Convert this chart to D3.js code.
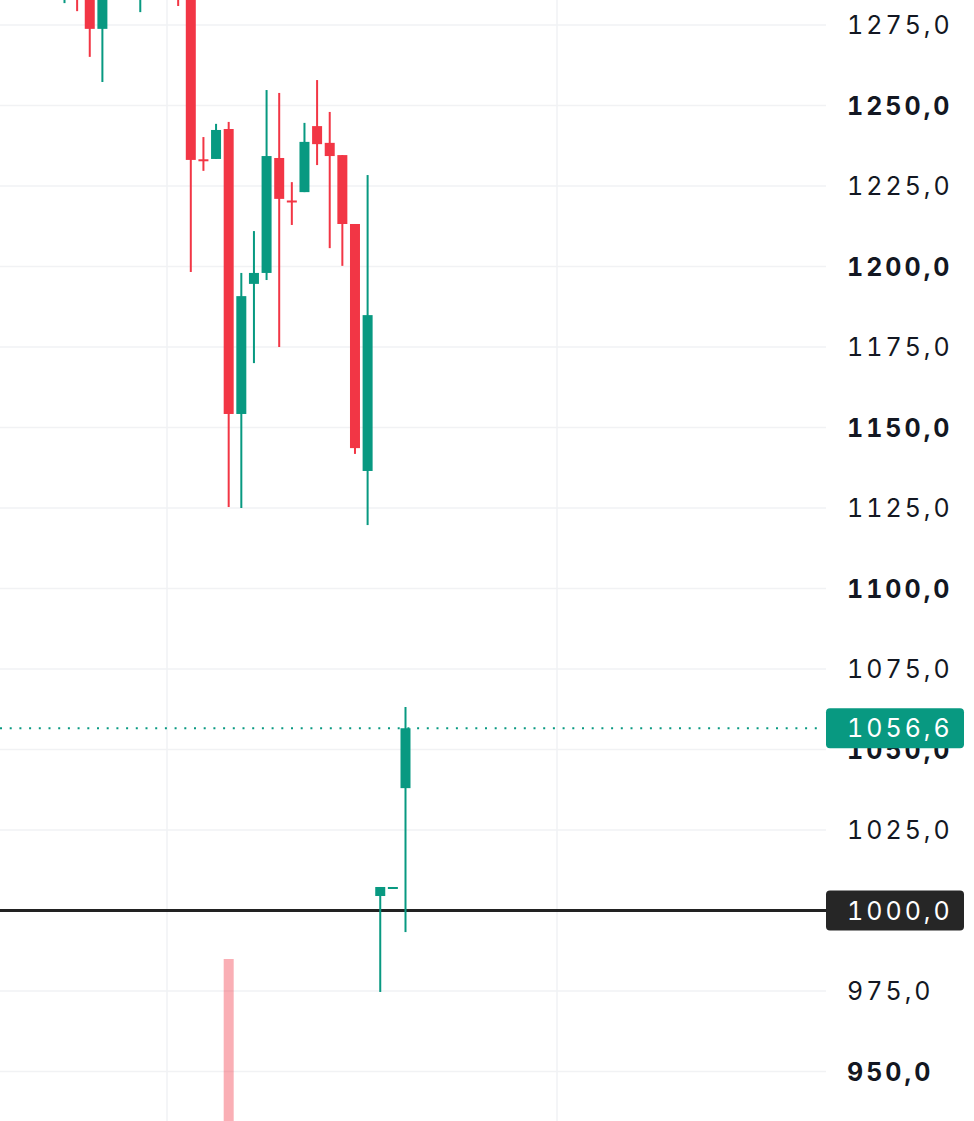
<!DOCTYPE html>
<html>
<head>
<meta charset="utf-8">
<script src="https://cdn.jsdelivr.net/npm/d3@7"></script>
<style>
  html, body { margin: 0; padding: 0; background: #fff; }
  svg { display: block; }
  text { font-variant-numeric: tabular-nums; font-feature-settings: "tnum" 1; }
</style>
</head>
<body>
<svg id="chart" width="974" height="1121"></svg>
<script>
// ---- data ----
const opens  = [1290, 1295, 1292, 1273.8, 1290, 1300, 1290, 1302, 1296, 1304, 1298, 1233.3, 1233.4, 1242.7, 1154.2, 1194.6, 1198.0, 1233.7, 1220.5, 1223.1, 1243.6, 1238.4, 1234.6, 1213.2, 1136.5, 1004.5, 1007.3, 1038.0];
const highs  = [1305, 1298, 1296, 1294, 1305, 1303, 1306, 1306, 1308, 1309, 1300, 1240.2, 1244.3, 1244.9, 1198.0, 1211.0, 1254.8, 1253.9, 1226.2, 1244.6, 1257.9, 1248.0, 1234.6, 1213.2, 1228.4, 1007.3, 1007.3, 1063.2];
const lows   = [1281.8, 1279.3, 1265.1, 1257.3, 1287, 1288, 1279, 1291, 1290, 1280.9, 1198.3, 1229.7, 1233.4, 1125.3, 1125.0, 1170.0, 1195.8, 1175.0, 1212.9, 1223.1, 1231.5, 1205.7, 1200.2, 1141.8, 1119.7, 974.7, 1007.3, 993.3];
const closes = [1300, 1288, 1273.8, 1290, 1300, 1293, 1302, 1296, 1304, 1298, 1233.1, 1233.1, 1242.4, 1154.2, 1190.8, 1198.0, 1234.3, 1221.0, 1220.3, 1238.7, 1238.0, 1234.3, 1213.2, 1143.6, 1184.9, 1007.3, 1007.3, 1056.6];
const volumes = [20, 18, 30, 28, 15, 14, 22, 12, 16, 25, 45, 30, 26, 100, 44, 20, 30, 26, 18, 22, 24, 20, 30, 40, 42, 25, 5, 45];
const tickValues = [950, 975, 1000, 1025, 1050, 1075, 1100, 1125, 1150, 1175, 1200, 1225, 1250, 1275];
const lastPrice = 1056.6;
const levelPrice = 1000;

// ---- layout ----
const W = 974, H = 1121;
const plotRight = 826;
const labelX = 847;
const UP = "#089981", DOWN = "#f23645";
const FONT = "Inter, 'Noto Sans', sans-serif";
const LS = 3;

const svg = d3.select("#chart");
const y = d3.scaleLinear().domain([1275, 1000]).range([25, 910.5]);
const x = d3.scaleLinear().domain([0, 27]).range([64.5, 405.5]);
const yVol = d3.scaleLinear().domain([0, 100]).range([1300, 959]);

const fmt = v => v.toFixed(1).replace(".", ",");

// grid
const grid = svg.append("g");
grid.selectAll("line.h").data(tickValues).join("line")
  .attr("x1", 0).attr("x2", plotRight)
  .attr("y1", d => y(d)).attr("y2", d => y(d))
  .attr("stroke", "#f1f2f4").attr("stroke-width", 1.5);
grid.selectAll("line.v").data([167, 557]).join("line")
  .attr("x1", d => d).attr("x2", d => d)
  .attr("y1", 0).attr("y2", H)
  .attr("stroke", "#f1f2f4").attr("stroke-width", 1.5);

const idx = d3.range(opens.length);
const color = i => (closes[i] > opens[i] || i === 25 || i === 26) ? UP : DOWN;

// volume
svg.append("g").selectAll("rect").data(idx).join("rect")
  .attr("x", i => x(i) - 5).attr("width", 10)
  .attr("y", i => yVol(volumes[i]))
  .attr("height", i => yVol(0) - yVol(volumes[i]))
  .attr("fill", i => color(i)).attr("fill-opacity", 0.4);

// level line 1000
svg.append("line")
  .attr("x1", 0).attr("x2", plotRight)
  .attr("y1", y(levelPrice)).attr("y2", y(levelPrice))
  .attr("stroke", "#222").attr("stroke-width", 3);

// candles
const cg = svg.append("g");
cg.selectAll("rect.wick").data(idx).join("rect")
  .attr("class", "wick")
  .attr("x", i => x(i) - 1).attr("width", 2)
  .attr("y", i => y(highs[i]))
  .attr("height", i => Math.max(1, y(lows[i]) - y(highs[i])))
  .attr("fill", color);
cg.selectAll("rect.body").data(idx).join("rect")
  .attr("class", "body")
  .attr("x", i => x(i) - 5).attr("width", 10)
  .attr("y", i => y(Math.max(opens[i], closes[i])))
  .attr("height", i => Math.max(2, Math.abs(y(opens[i]) - y(closes[i]))))
  .attr("fill", color);

// last price dotted line
svg.append("line")
  .attr("x1", 0).attr("x2", plotRight - 6)
  .attr("y1", y(lastPrice)).attr("y2", y(lastPrice))
  .attr("stroke", UP).attr("stroke-width", 2)
  .attr("stroke-dasharray", "2,7.7");

// axis labels (the 1000 label is covered by its price tag)
const axis = svg.append("g");
axis.selectAll("text").data(tickValues.filter(d => d !== levelPrice)).join("text")
  .attr("x", labelX).attr("y", d => y(d))
  .attr("dy", "0.36em")
  .attr("text-anchor", "start")
  .attr("font-family", FONT)
  .attr("font-size", 25)
  .attr("letter-spacing", LS)
  .attr("font-weight", d => d % 50 === 0 ? 700 : 400)
  .attr("fill", "#131722")
  .text(d => fmt(d));

// price tags
function tag(v, fill) {
  const g = svg.append("g");
  g.append("rect")
    .attr("x", plotRight).attr("y", y(v) - 20)
    .attr("width", 138).attr("height", 40)
    .attr("rx", 4).attr("fill", fill);
  g.append("text")
    .attr("x", labelX).attr("y", y(v)).attr("dy", "0.36em")
    .attr("text-anchor", "start")
    .attr("font-family", FONT)
    .attr("font-size", 25)
    .attr("letter-spacing", LS)
    .attr("fill", "#fff")
    .text(fmt(v));
}
tag(lastPrice, UP);
tag(levelPrice, "#262626");
</script>
</body>
</html>
